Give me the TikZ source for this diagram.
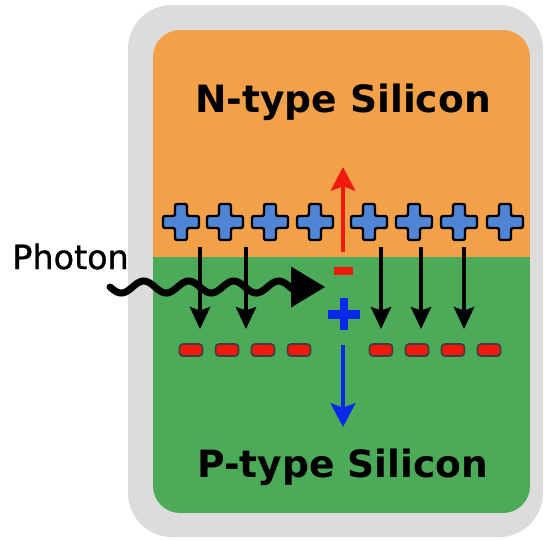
\documentclass[tikz,border=0pt]{standalone}
\usepackage{fontspec}
\setmainfont{DejaVu Sans}
\newfontfamily\photonfont[FakeBold=1]{DejaVu Sans}
\usetikzlibrary{arrows.meta}

\definecolor{framegray}{RGB}{220,220,220}
\definecolor{ntypeorange}{RGB}{243,161,72}
\definecolor{ptypegreen}{RGB}{76,171,88}
\definecolor{holeblue}{RGB}{80,132,212}
\definecolor{electronred}{RGB}{240,26,14}
\definecolor{driftblue}{RGB}{10,40,235}

\begin{document}
\begin{tikzpicture}[
    x=0.02cm, y=-0.02cm,
    layer/.style={font=\bfseries\fontsize{21.4}{25}\selectfont, anchor=base, inner sep=0pt},
    photonlabel/.style={font=\photonfont\fontsize{19}{22}\selectfont, anchor=base west, inner sep=0pt},
    arrow/.style={-{Stealth[length=12.5pt, width=11.5pt, inset=2pt]}, line width=2.2pt},
    drift/.style={-{Stealth[length=13.5pt, width=14pt, inset=2.5pt]}, line width=2.2pt},
    photonwave/.style={line width=4pt, line cap=round},
    poscharge/.pic={
        \filldraw[fill=holeblue, draw=black, line width=1.4pt, rounded corners=1.2pt]
            (-6,-18) -- (6,-18) -- (6,-6) -- (18,-6) -- (18,6)
            -- (6,6) -- (6,18) -- (-6,18) -- (-6,6) -- (-18,6)
            -- (-18,-6) -- (-6,-6) -- cycle;
    },
    negcharge/.pic={
        \filldraw[fill=electronred, draw=black!75, line width=1pt, rounded corners=2pt]
            (-11.5,-6) rectangle (11.5,6);
    }
]

% Frame and the two layers
\fill[white] (0,0) rectangle (546,539);
\fill[framegray, rounded corners=0.88cm] (128,5) rectangle (543,537);
\begin{scope}
    \clip[rounded corners=0.54cm] (153,30) rectangle (530,513);
    \fill[ptypegreen] (153,257) rectangle (530,513);
    \fill[ntypeorange] (153,30) rectangle (530,257);
\end{scope}
\node[layer] (ntype) at (343,112) {N-type Silicon};
\node[layer] (ptype) at (343,477) {P-type Silicon};

% Positive charges (N side)
\pic (pos1) at (181,222) {poscharge};
\pic (pos2) at (225,222) {poscharge};
\pic (pos3) at (270,222) {poscharge};
\pic (pos4) at (315,222) {poscharge};
\pic (pos5) at (369,222) {poscharge};
\pic (pos6) at (414,222) {poscharge};
\pic (pos7) at (459,222) {poscharge};
\pic (pos8) at (505,222) {poscharge};

% Negative charges (P side)
\pic (neg1) at (191,350) {negcharge};
\pic (neg2) at (227,350) {negcharge};
\pic (neg3) at (263,350) {negcharge};
\pic (neg4) at (299,350) {negcharge};
\pic (neg5) at (381,350) {negcharge};
\pic (neg6) at (417,350) {negcharge};
\pic (neg7) at (453,350) {negcharge};
\pic (neg8) at (489,350) {negcharge};

% Field arrows
\coordinate (f1a) at (200,247); \coordinate (f1b) at (200,329);
\coordinate (f2a) at (246,247); \coordinate (f2b) at (246,329);
\coordinate (f3a) at (381,247); \coordinate (f3b) at (381,329);
\coordinate (f4a) at (421,247); \coordinate (f4b) at (421,329);
\coordinate (f5a) at (464,247); \coordinate (f5b) at (464,329);
\draw[arrow] (f1a) -- (f1b);
\draw[arrow] (f2a) -- (f2b);
\draw[arrow] (f3a) -- (f3b);
\draw[arrow] (f4a) -- (f4b);
\draw[arrow] (f5a) -- (f5b);

% Electron-hole pair
\node[rectangle, fill=electronred, minimum width=0.38cm, minimum height=0.16cm, inner sep=0pt] (electron) at (343.5,271) {};
\fill[driftblue] (328,309.5) rectangle (360,318.5);
\fill[driftblue] (340,298) rectangle (348,330);
\coordinate (hole) at (344,314);
\coordinate (eup1) at (343,252); \coordinate (eup2) at (343,167);
\coordinate (hdn1) at (343,345); \coordinate (hdn2) at (343,427);
\draw[drift, electronred] (eup1) -- (eup2);
\draw[drift, driftblue] (hdn1) -- (hdn2);

% Photon
\node[photonlabel] (photon) at (12,269) {Photon};
\coordinate (ph1) at (110,287);
\coordinate (ph3) at (325,287);
\draw[photonwave] plot[domain=110:296, samples=100, smooth] (\x, {287+6*sin((\x-110)*8)});
\fill (ph3) -- ++(-34,-20.5) -- ++(0,41) -- cycle;

\end{tikzpicture}
\end{document}
